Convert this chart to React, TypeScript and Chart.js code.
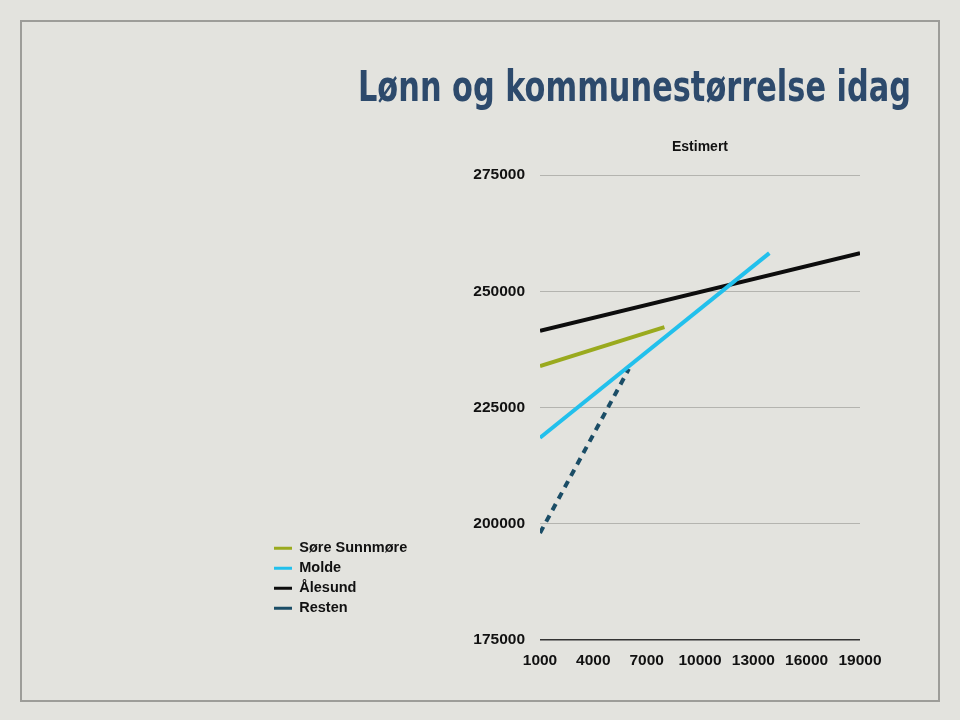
import React, { useEffect, useRef } from 'react';
import { Chart, registerables } from 'chart.js';

Chart.register(...registerables);

// ---- data ----
const TITLE = 'Lønn og kommunestørrelse idag';
const SUBTITLE = 'Estimert';
const SERIES_NAMES = ['Søre Sunnmøre', 'Molde', 'Ålesund', 'Resten'];
const SERIES_COLORS = ['#9aaa1e', '#22c0ec', '#0d0d0d', '#1b4d66'];

const SORE_X = [1000, 8000];
const SORE_Y = [233900, 242300];
const MOLDE_X = [1000, 13900];
const MOLDE_Y = [218500, 258200];
const ALESUND_X = [1000, 19000];
const ALESUND_Y = [241500, 258200];
const RESTEN_X = [1000, 6000];
const RESTEN_Y = [198000, 233300];

const X_MIN = 1000;
const X_MAX = 19000;
const X_STEP = 3000;
const Y_MIN = 175000;
const Y_MAX = 275000;
const Y_STEP = 25000;

const TITLE_FONT = '"DejaVu Sans Condensed", "DejaVu Sans", sans-serif';
const FONT = '"Liberation Sans", Arial, Helvetica, sans-serif';

const PAD_LEFT = 268.5;
const PAD_RIGHT = 49;
const PLOT_LEFT = 540;
const PLOT_RIGHT_MARGIN = 100;
const TITLE_LEFT = 358;

const toPoints = (xs: number[], ys: number[]) => xs.map((x, i) => ({ x, y: ys[i] }));

const bgPlugin = {
  id: 'bgFrame',
  beforeDraw(chart: any) {
    const ctx = chart.ctx;
    ctx.save();
    ctx.fillStyle = '#e3e3de';
    ctx.fillRect(0, 0, chart.width, chart.height);
    ctx.strokeStyle = '#9d9d99';
    ctx.lineWidth = 2;
    ctx.strokeRect(21, 21, 918, 680);
    ctx.restore();
  },
};

// moves the legend up a little and narrows the title block (the title is then drawn condensed)
const layoutNudge = {
  id: 'layoutNudge',
  afterLayout(chart: any) {
    const l = chart.legend;
    if (l) {
      l.top -= 19;
      l.bottom -= 19;
    }
    const t = chart.titleBlock;
    if (t) {
      t.left = TITLE_LEFT;
      t.width = t.right - t.left;
    }
  },
};

export default function App() {
  const ref = useRef<HTMLCanvasElement | null>(null);

  useEffect(() => {
    if (!ref.current) return;
    const datasets = [
      { x: SORE_X, y: SORE_Y, dash: [] as number[] },
      { x: MOLDE_X, y: MOLDE_Y, dash: [] as number[] },
      { x: ALESUND_X, y: ALESUND_Y, dash: [] as number[] },
      { x: RESTEN_X, y: RESTEN_Y, dash: [7, 6] },
    ].map((s, i) => ({
      label: SERIES_NAMES[i],
      data: toPoints(s.x, s.y),
      borderColor: SERIES_COLORS[i],
      backgroundColor: SERIES_COLORS[i],
      borderWidth: 4,
      borderDash: s.dash,
      pointRadius: 0,
      fill: false,
      tension: 0,
    }));

    const chart = new Chart(ref.current, {
      type: 'line',
      data: { datasets },
      options: {
        animation: false,
        responsive: false,
        maintainAspectRatio: false,
        layout: { padding: { left: PAD_LEFT, right: PAD_RIGHT, top: 20, bottom: 20 } },
        plugins: {
          title: {
            display: true,
            text: TITLE,
            align: 'end',
            fullSize: true,
            color: '#2d4a6c',
            font: { family: TITLE_FONT, size: 42.5, weight: 'bold', lineHeight: 1.2 },
            padding: { top: 44.5, bottom: 0 },
          },
          subtitle: {
            display: true,
            text: SUBTITLE,
            align: 'center',
            fullSize: false,
            color: '#111111',
            font: { family: FONT, size: 14, weight: 'bold', lineHeight: 1.2 },
            padding: { top: 23.6, bottom: 19.1 },
          },
          legend: {
            position: 'left',
            align: 'end',
            fullSize: false,
            labels: {
              boxWidth: 18,
              boxHeight: 3,
              padding: 5.5,
              color: '#111111',
              font: { family: FONT, size: 14.5, weight: 'bold' },
              generateLabels: (c: any) =>
                Chart.defaults.plugins.legend.labels.generateLabels(c).map((it: any) => ({
                  ...it,
                  fillStyle: it.strokeStyle,
                  lineWidth: 0,
                  lineDash: [],
                })),
            },
          },
          tooltip: { enabled: false },
        },
        scales: {
          x: {
            type: 'linear',
            position: 'bottom',
            min: X_MIN,
            max: X_MAX,
            ticks: {
              stepSize: X_STEP,
              autoSkip: false,
              maxRotation: 0,
              padding: 11,
              color: '#111111',
              font: { family: FONT, size: 15.5, weight: 'bold' },
              callback: (v: any) => String(v),
            },
            grid: { display: false, drawTicks: false },
            border: { display: false },
            afterFit: (s: any) => {
              s.height = 60;
              s.paddingRight = PLOT_RIGHT_MARGIN;
            },
          },
          y: {
            type: 'linear',
            position: 'left',
            min: Y_MIN,
            max: Y_MAX,
            ticks: {
              stepSize: Y_STEP,
              padding: 15,
              color: '#111111',
              font: { family: FONT, size: 15.5, weight: 'bold' },
              callback: (v: any) => String(v),
            },
            grid: {
              drawTicks: false,
              color: (c: any) => (c.tick && c.tick.value === Y_MIN ? '#333333' : '#b4b4af'),
              lineWidth: (c: any) => (c.tick && c.tick.value === Y_MIN ? 1.5 : 1),
            },
            border: { display: false },
            afterFit: (s: any) => {
              const lw = s.chart.legend ? s.chart.legend.width : 0;
              s.width = PLOT_LEFT - PAD_LEFT - lw;
            },
          },
        },
      } as any,
      plugins: [bgPlugin, layoutNudge],
    });
    return () => chart.destroy();
  }, []);

  return (
    <div style={{ position: 'fixed', left: 0, top: 0, width: 960, height: 720 }}>
      <canvas ref={ref} width={960} height={720} style={{ display: 'block', width: 960, height: 720 }} />
    </div>
  );
}
